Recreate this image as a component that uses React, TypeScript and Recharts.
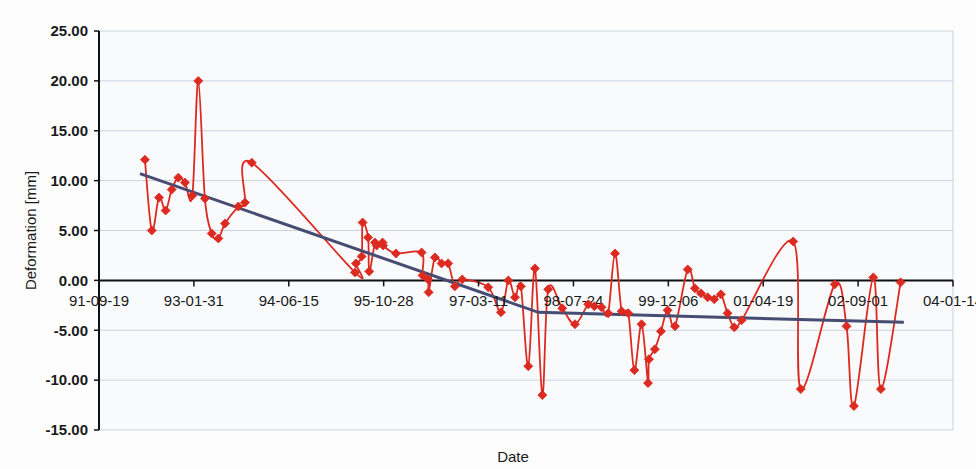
import React from 'react';
import { LineChart, Line, XAxis, YAxis, CartesianGrid, ReferenceLine, ReferenceDot } from 'recharts';

// Days since 1991-09-19 and deformation [mm]
const measurementDays = [
  242, 278, 316, 351, 383, 418, 453, 492, 523, 558, 594, 629, 664, 734, 769, 805,
  1349, 1354, 1384, 1389, 1418, 1424, 1454, 1463, 1494, 1497, 1565, 1700, 1705, 1734, 1737,
  1770, 1805, 1840, 1875, 1914, 2051, 2118, 2157, 2192, 2223, 2262, 2297, 2336, 2367,
  2441, 2508, 2578, 2610, 2648, 2683, 2719, 2754, 2789, 2821, 2859, 2893, 2898, 2929,
  2961, 2996, 3035, 3102, 3140, 3172, 3207, 3242, 3277, 3312, 3347, 3386, 3658, 3698,
  3877, 3939, 3978, 4080, 4120, 4224,
];
const deformation = [
  12.1, 5.0, 8.3, 7.0, 9.1, 10.3, 9.8, 8.5, 20.0, 8.2, 4.7, 4.2, 5.7, 7.4, 7.8, 11.8,
  0.8, 1.7, 2.4, 5.8, 4.3, 0.9, 3.8, 3.5, 3.8, 3.5, 2.7, 2.8, 0.5, 0.1, -1.2,
  2.3, 1.7, 1.7, -0.6, 0.1, -0.7, -3.2, 0.0, -1.7, -0.6, -8.6, 1.2, -11.5, -0.9,
  -2.8, -4.4, -2.4, -2.6, -2.7, -3.3, 2.7, -3.1, -3.3, -9.0, -4.4, -10.3, -7.9, -6.9,
  -5.1, -3.0, -4.6, 1.1, -0.8, -1.3, -1.7, -1.9, -1.4, -3.3, -4.7, -4.0, 3.9, -10.9,
  -0.4, -4.6, -12.6, 0.3, -10.9, -0.2,
];
const trendDays = [216, 2315, 4241];
const trendValues = [10.7, -3.2, -4.2];
const xTicks = [0, 500, 1000, 1500, 2000, 2500, 3000, 3500, 4000, 4500];
const yTicks = [-15, -10, -5, 0, 5, 10, 15, 20, 25];

const BASE = Date.UTC(1991, 8, 19);
const pad = (n: number) => String(n).padStart(2, '0');
const fmtDate = (d: number) => {
  const dt = new Date(BASE + d * 86400000);
  return `${pad(dt.getUTCFullYear() % 100)}-${pad(dt.getUTCMonth() + 1)}-${pad(dt.getUTCDate())}`;
};

const measData = measurementDays.map((d, i) => ({ day: d, value: deformation[i] }));
const trendData = trendDays.map((d, i) => ({ day: d, trend: trendValues[i] }));

// Excel-like smoothed line (Catmull-Rom Bezier)
const excelSmooth: any = (context: any) => {
  let pts: number[][] = [];
  return {
    areaStart() {},
    areaEnd() {},
    lineStart() { pts = []; },
    point(x: number, y: number) { pts.push([+x, +y]); },
    lineEnd() {
      const n = pts.length;
      if (!n) return;
      context.moveTo(pts[0][0], pts[0][1]);
      for (let i = 0; i < n - 1; i++) {
        const p0 = pts[Math.max(i - 1, 0)];
        const p1 = pts[i];
        const p2 = pts[i + 1];
        const p3 = pts[Math.min(i + 2, n - 1)];
        context.bezierCurveTo(
          p1[0] + (p2[0] - p0[0]) / 6, p1[1] + (p2[1] - p0[1]) / 6,
          p2[0] - (p3[0] - p1[0]) / 6, p2[1] - (p3[1] - p1[1]) / 6,
          p2[0], p2[1]
        );
      }
    },
  };
};

const RED = '#dc2a20';
const FONT = '"Liberation Sans", Arial, sans-serif';

const Diamond = (props: any) => {
  const { cx, cy, index } = props;
  if (cx == null || cy == null) return <g key={index} />;
  const s = 4.5;
  return (
    <path key={index} d={`M${cx},${cy - s}L${cx + s},${cy}L${cx},${cy + s}L${cx - s},${cy}Z`} fill={RED} stroke={RED} strokeWidth={0.8} />
  );
};

export default function App() {
  return (
    <div style={{ position: 'absolute', left: 0, top: 0, width: 976, height: 469, background: '#fdfdfe' }}>
      <LineChart width={976} height={469} margin={{ top: 31, right: 23, bottom: 0, left: 0 }}>
        <CartesianGrid stroke="#c8d3de" strokeWidth={1} fill="#f9fafc" />
        <XAxis
          type="number"
          dataKey="day"
          domain={[0, 4500]}
          ticks={xTicks}
          tick={false}
          tickLine={false}
          axisLine={false}
          height={39}
          allowDataOverflow
          label={{
            content: (p: any) => {
              const vb = p.viewBox;
              return (
                <text x={vb.x + vb.width / 2 - 13} y={vb.y + 32} textAnchor="middle" fontSize={15} fontFamily={FONT} fill="#1a1a1a">
                  Date
                </text>
              );
            },
          }}
        />
        <YAxis
          type="number"
          domain={[-15, 25]}
          ticks={yTicks}
          width={99}
          tickFormatter={(v: number) => v.toFixed(2)}
          tick={{ fill: '#1a1a1a', fontSize: 15, fontWeight: 700, fontFamily: FONT }}
          tickSize={5}
          tickMargin={6}
          tickLine={{ stroke: '#111', strokeWidth: 1.5 }}
          axisLine={{ stroke: '#111', strokeWidth: 2 }}
          allowDataOverflow
          label={{
            content: (p: any) => {
              const vb = p.viewBox;
              const x = vb.x + 36;
              const y = vb.y + vb.height / 2;
              return (
                <text x={x} y={y} transform={`rotate(-90 ${x} ${y})`} textAnchor="middle" fontSize={15} fontFamily={FONT} fill="#1a1a1a">
                  Deformation [mm]
                </text>
              );
            },
          }}
        />
        <ReferenceLine y={0} stroke="#111" strokeWidth={2} />
        {xTicks.map((t) => (
          <ReferenceDot
            key={t}
            x={t}
            y={0}
            r={0}
            ifOverflow="visible"
            shape={(p: any) => (
              <g>
                <line x1={p.cx} y1={p.cy} x2={p.cx} y2={p.cy + 6} stroke="#111" strokeWidth={1.5} />
                <text x={p.cx} y={p.cy + 26} textAnchor="middle" fontSize={15} fontFamily={FONT} fill="#1a1a1a">
                  {fmtDate(t)}
                </text>
              </g>
            )}
          />
        ))}
        <Line
          data={measData}
          dataKey="value"
          type={excelSmooth}
          stroke={RED}
          strokeWidth={1.8}
          dot={Diamond}
          activeDot={false}
          isAnimationActive={false}
        />
        <Line
          data={trendData}
          dataKey="trend"
          type="linear"
          stroke="#474d72"
          strokeWidth={3}
          dot={false}
          activeDot={false}
          isAnimationActive={false}
        />
      </LineChart>
    </div>
  );
}
